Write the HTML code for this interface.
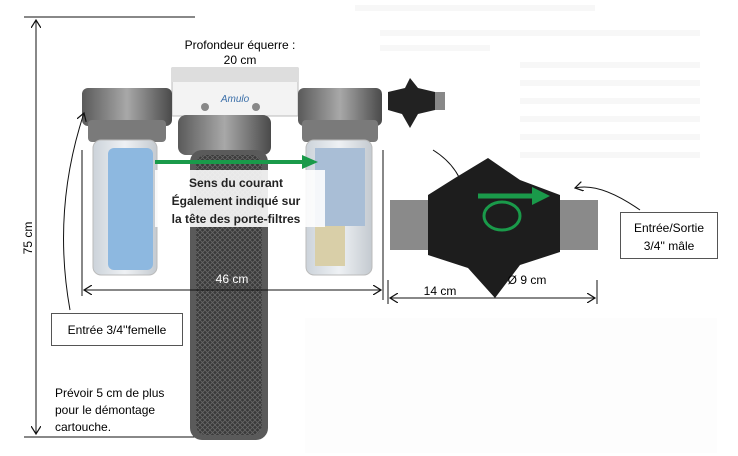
<!DOCTYPE html>
<html><head><meta charset="utf-8"><style>
body{margin:0;background:#fff;}
svg{display:block;font-family:"Liberation Sans",sans-serif;}
</style></head><body>
<svg width="738" height="456" viewBox="0 0 738 456" xmlns="http://www.w3.org/2000/svg">
<defs>
<marker id="a" markerWidth="10" markerHeight="10" refX="8" refY="5" orient="auto-start-reverse" markerUnits="userSpaceOnUse"><path d="M0,0 L8,5 L0,10" fill="none" stroke="#111" stroke-width="1.2"/></marker>
<pattern id="mesh" width="5" height="5" patternUnits="userSpaceOnUse"><rect width="5" height="5" fill="#3a3a3a"/><path d="M0,0L5,5M5,0L0,5" stroke="#666" stroke-width="0.8"/></pattern>
<linearGradient id="gh" x1="0" x2="1"><stop offset="0" stop-color="#5a5a5a"/><stop offset=".5" stop-color="#a8a8a8"/><stop offset="1" stop-color="#4a4a4a"/></linearGradient>
<linearGradient id="gc" x1="0" x2="1"><stop offset="0" stop-color="#ccd3da"/><stop offset=".5" stop-color="#eef1f4"/><stop offset="1" stop-color="#c4cad0"/></linearGradient>
</defs>
<rect width="738" height="456" fill="#fff"/>
<g fill="#f7f7f7"><rect x="355" y="5" width="240" height="6"/><rect x="380" y="30" width="320" height="6"/><rect x="380" y="45" width="110" height="6"/><rect x="520" y="62" width="180" height="6"/><rect x="520" y="80" width="180" height="6"/><rect x="520" y="98" width="180" height="6"/><rect x="520" y="116" width="180" height="6"/><rect x="520" y="134" width="180" height="6"/><rect x="520" y="152" width="180" height="6"/></g>
<rect x="305" y="318" width="412" height="135" fill="#fdfdfd"/>
<line x1="24" y1="17" x2="195" y2="17" stroke="#111"/>
<line x1="24" y1="437" x2="232" y2="437" stroke="#111"/>
<line x1="36" y1="20" x2="36" y2="434" stroke="#111" marker-start="url(#a)" marker-end="url(#a)"/>
<text transform="translate(32,238) rotate(-90)" font-size="12" text-anchor="middle">75 cm</text>
<rect x="172" y="68" width="126" height="48" fill="#f3f3f3" stroke="#bbb"/>
<rect x="172" y="68" width="126" height="14" fill="#ddd"/>
<circle cx="205" cy="107" r="4" fill="#888"/><circle cx="256" cy="107" r="4" fill="#888"/>
<text x="235" y="102" font-size="10" fill="#3a6ea8" text-anchor="middle" font-style="italic">Amulo</text>
<rect x="178" y="115" width="93" height="40" rx="8" fill="url(#gh)"/>
<rect x="190" y="150" width="78" height="290" rx="12" fill="#5a5a5a"/>
<rect x="196" y="155" width="66" height="280" rx="10" fill="url(#mesh)"/>
<rect x="82" y="88" width="90" height="38" rx="6" fill="url(#gh)"/>
<rect x="88" y="120" width="78" height="22" rx="4" fill="#7a7a7a"/>
<rect x="93" y="140" width="64" height="135" rx="8" fill="url(#gc)" stroke="#bbb"/>
<rect x="108" y="148" width="45" height="122" rx="6" fill="#8db8e0"/>
<rect x="298" y="88" width="84" height="38" rx="6" fill="url(#gh)"/>
<rect x="302" y="120" width="76" height="22" rx="4" fill="#7a7a7a"/>
<rect x="306" y="140" width="66" height="135" rx="8" fill="url(#gc)" stroke="#bbb"/>
<rect x="315" y="148" width="50" height="78" fill="#a9bed6"/>
<rect x="315" y="226" width="30" height="40" fill="#d9cfa8"/>
<rect x="155" y="170" width="170" height="57" fill="#fff" opacity=".88"/>
<g font-size="12" font-weight="bold" fill="#222" text-anchor="middle"><text x="236" y="187">Sens du courant</text><text x="236" y="205">Également indiqué sur</text><text x="236" y="223">la tête des porte-filtres</text></g>
<line x1="155" y1="162" x2="305" y2="162" stroke="#1a9a4a" stroke-width="4"/>
<path d="M302,155 L318,162 L302,169Z" fill="#1a9a4a"/>
<text x="240" y="49" font-size="12" text-anchor="middle">Profondeur équerre :</text>
<text x="240" y="64" font-size="12" text-anchor="middle">20 cm</text>
<line x1="82" y1="150" x2="82" y2="296" stroke="#111"/>
<line x1="383" y1="150" x2="383" y2="300" stroke="#111"/>
<line x1="84" y1="290" x2="381" y2="290" stroke="#111" marker-start="url(#a)" marker-end="url(#a)"/>
<text x="232" y="283" font-size="12" fill="#fff" text-anchor="middle">46 cm</text>
<path d="M388,92 L405,88 L410,78 L418,88 L435,92 L435,110 L418,114 L410,128 L402,114 L388,110Z" fill="#222"/>
<rect x="435" y="92" width="10" height="18" fill="#888"/>
<path d="M433,150 Q462,168 466,200" fill="none" stroke="#111" marker-end="url(#a)"/>
<rect x="390" y="200" width="42" height="50" fill="#8a8a8a"/>
<rect x="558" y="200" width="40" height="50" fill="#8a8a8a"/>
<path d="M428,195 L455,178 L488,158 L520,180 L560,195 L560,252 L520,265 L495,298 L468,268 L428,255Z" fill="#1d1d1d"/>
<line x1="478" y1="196" x2="535" y2="196" stroke="#1a9a4a" stroke-width="5"/>
<path d="M532,187 L550,196 L532,205Z" fill="#1a9a4a"/>
<ellipse cx="502" cy="216" rx="18" ry="14" fill="none" stroke="#1a9a4a" stroke-width="3"/>
<path d="M575,188 Q600,182 640,210" fill="none" stroke="#111" marker-start="url(#a)"/>
<rect x="620.5" y="212.5" width="97" height="46" fill="#fff" stroke="#555"/>
<text x="669" y="232" font-size="12" text-anchor="middle">Entrée/Sortie</text>
<text x="669" y="250" font-size="12" text-anchor="middle">3/4'' mâle</text>
<text x="527" y="284" font-size="12" text-anchor="middle">Ø 9 cm</text>
<text x="440" y="295" font-size="12" text-anchor="middle">14 cm</text>
<line x1="388" y1="280" x2="388" y2="304" stroke="#111"/>
<line x1="597" y1="280" x2="597" y2="304" stroke="#111"/>
<line x1="390" y1="298" x2="595" y2="298" stroke="#111" marker-start="url(#a)" marker-end="url(#a)"/>
<path d="M70,310 Q52,210 84,113" fill="none" stroke="#111" marker-end="url(#a)"/>
<rect x="51.5" y="313.5" width="131" height="32" fill="#fff" stroke="#555"/>
<text x="117" y="334" font-size="12" text-anchor="middle">Entrée 3/4''femelle</text>
<g font-size="12"><text x="55" y="397">Prévoir 5 cm de plus</text><text x="55" y="414">pour le démontage</text><text x="55" y="431">cartouche.</text></g>
</svg>
</body></html>
